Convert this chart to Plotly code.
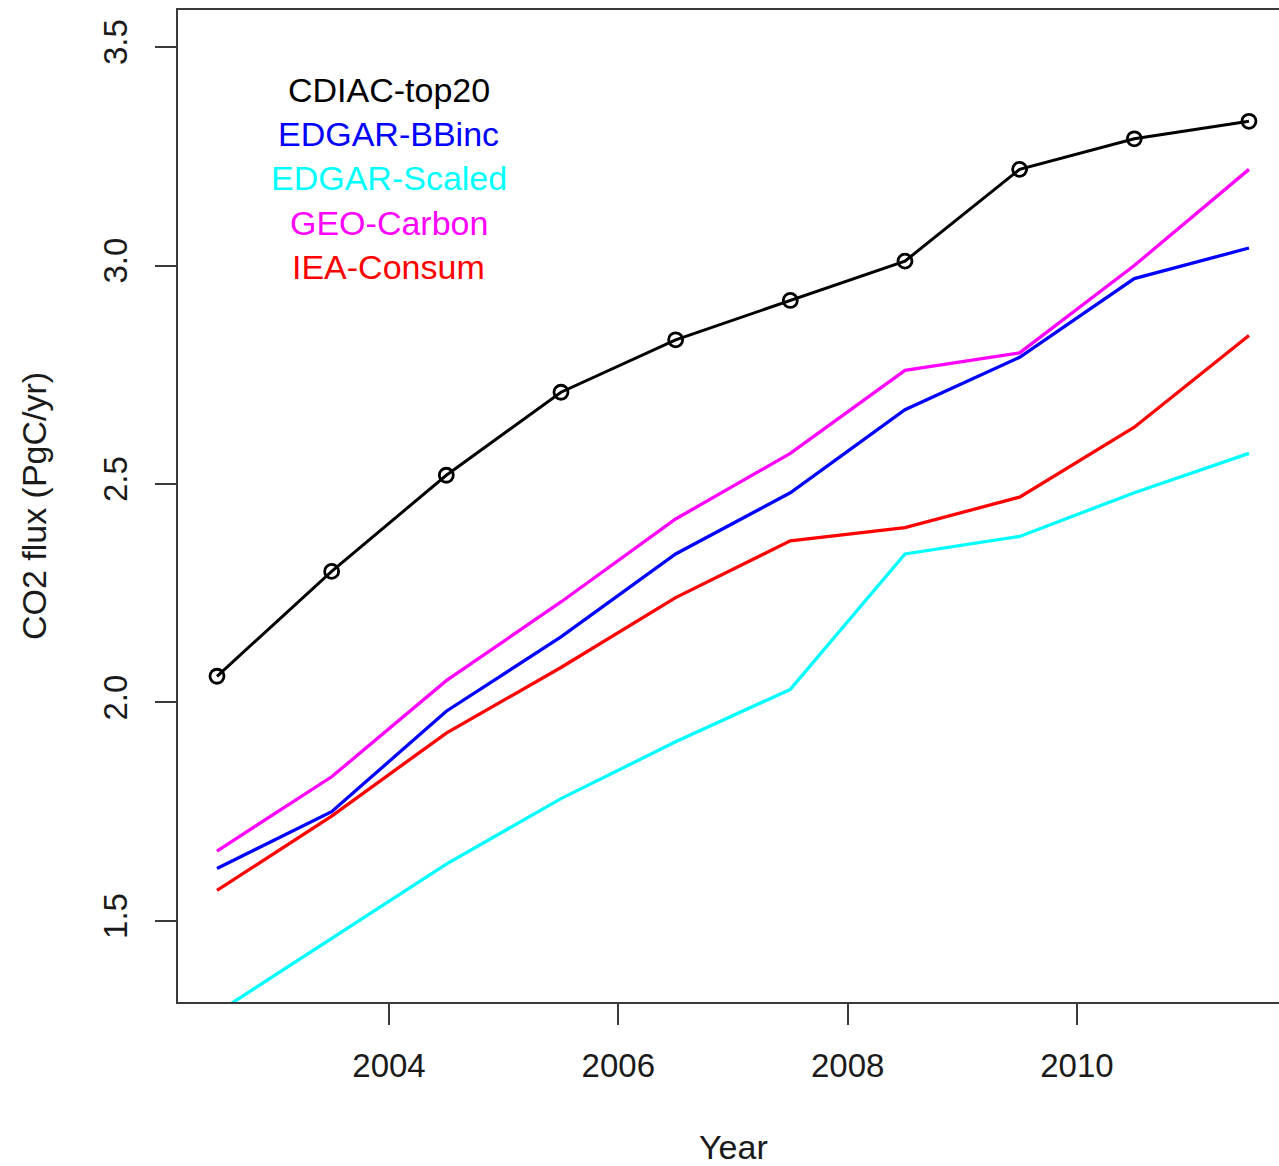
import plotly.graph_objects as go

# Annual CO2 flux estimates (PgC/yr) by inventory, plotted at mid-year
years = [2002.5, 2003.5, 2004.5, 2005.5, 2006.5, 2007.5, 2008.5, 2009.5, 2010.5, 2011.5]

cdiac_top20 = [2.06, 2.30, 2.52, 2.71, 2.83, 2.92, 3.01, 3.22, 3.29, 3.33]
edgar_bbinc = [1.62, 1.75, 1.98, 2.15, 2.34, 2.48, 2.67, 2.79, 2.97, 3.04]
edgar_scaled = [1.29, 1.46, 1.63, 1.78, 1.91, 2.03, 2.34, 2.38, 2.48, 2.57]
geo_carbon = [1.66, 1.83, 2.05, 2.23, 2.42, 2.57, 2.76, 2.80, 3.00, 3.22]
iea_consum = [1.57, 1.74, 1.93, 2.08, 2.24, 2.37, 2.40, 2.47, 2.63, 2.84]

series_names = ["CDIAC-top20", "EDGAR-BBinc", "EDGAR-Scaled", "GEO-Carbon", "IEA-Consum"]
series_colors = ["#000000", "#0000FF", "#00FFFF", "#FF00FF", "#FF0000"]
series_values = [cdiac_top20, edgar_bbinc, edgar_scaled, geo_carbon, iea_consum]

x_ticks = [2004, 2006, 2008, 2010]
y_ticks = [1.5, 2.0, 2.5, 3.0, 3.5]

FONT = "Liberation Sans, Arial, Helvetica, sans-serif"
AXIS_COLOR = "#3a3a3a"
TEXT_COLOR = "#1a1a1a"

fig = go.Figure()

for name, color, vals in zip(series_names, series_colors, series_values):
    if name == "CDIAC-top20":
        fig.add_trace(go.Scatter(
            x=years, y=vals, name=name, mode="lines+markers",
            line=dict(color=color, width=3),
            marker=dict(symbol="circle-open", size=14, color=color,
                        line=dict(color=color, width=2.8)),
        ))
    else:
        fig.add_trace(go.Scatter(
            x=years, y=vals, name=name, mode="lines",
            line=dict(color=color, width=3.3),
        ))

# Text-only legend in the upper-left corner
legend_top = 0.9194
legend_step = 0.0446
for i, (name, color) in enumerate(zip(series_names, series_colors)):
    fig.add_annotation(
        x=2004, xref="x", y=legend_top - i * legend_step, yref="paper",
        text=name, showarrow=False, xanchor="center", yanchor="middle",
        font=dict(family=FONT, size=34, color=color),
    )

# x-axis title, centred under the full plotting region
fig.add_annotation(
    x=0.5045, xref="paper", y=-0.146, yref="paper",
    text="Year", showarrow=False, xanchor="center", yanchor="middle",
    font=dict(family=FONT, size=34, color=TEXT_COLOR),
)

fig.update_layout(
    width=1279, height=1166,
    margin=dict(l=178, r=0, t=10, b=164),
    paper_bgcolor="white", plot_bgcolor="white",
    showlegend=False,
    font=dict(family=FONT, size=33, color=TEXT_COLOR),
)

fig.update_xaxes(
    range=[2002.16, 2011.762],
    tickvals=x_ticks, ticktext=[str(v) for v in x_ticks],
    ticks="outside", ticklen=21, tickwidth=2, tickcolor=AXIS_COLOR,
    showline=True, linecolor=AXIS_COLOR, linewidth=2, mirror=True,
    showgrid=False, zeroline=False,
    tickfont=dict(family=FONT, size=33, color=TEXT_COLOR),
    ticklabelstandoff=12,
    automargin=False,
)

fig.update_yaxes(
    range=[1.3146, 3.5847],
    tickvals=y_ticks, ticktext=[f"{v:.1f}" for v in y_ticks],
    tickangle=-90,
    ticks="outside", ticklen=21, tickwidth=2, tickcolor=AXIS_COLOR,
    showline=True, linecolor=AXIS_COLOR, linewidth=2, mirror=False,
    showgrid=False, zeroline=False,
    tickfont=dict(family=FONT, size=33, color=TEXT_COLOR),
    ticklabelstandoff=15,
    title=dict(text="CO2 flux (PgC/yr)", font=dict(family=FONT, size=34, color=TEXT_COLOR), standoff=40),
    automargin=False,
)

fig.write_html("out.html")
